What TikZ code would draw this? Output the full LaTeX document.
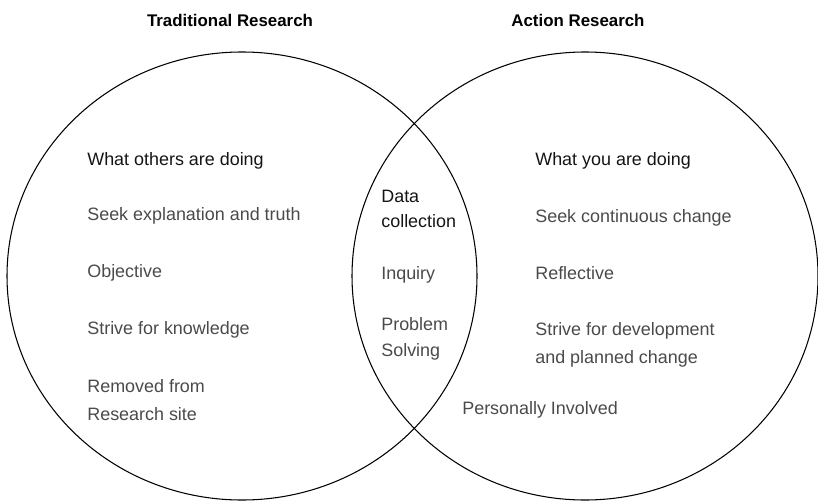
\documentclass[tikz,border=0pt]{standalone}
\usepackage{fontspec}
\setmainfont{Liberation Sans}
\definecolor{bodygray}{HTML}{4A4A4A}
\begin{document}
\begin{tikzpicture}[x=0.2mm,y=-0.2mm,
  title/.style={anchor=base,inner sep=0pt,font=\bfseries\fontsize{9.6}{12}\selectfont},
  lead/.style={anchor=base west,inner sep=0pt,align=left,text=black!92,font=\fontsize{10.2}{15.9}\selectfont},
  item/.style={lead,text=bodygray},
  twolines/.style={anchor=west},
  tight/.style={font=\fontsize{10.2}{14.5}\selectfont}]
\useasboundingbox (0,0) rectangle (818,500);
\draw [line width=0.6pt] (242,276) ellipse [x radius=47mm, y radius=44.8mm];
\draw [line width=0.6pt] (585,276) ellipse [x radius=46.6mm, y radius=44.8mm];
\node[title] (trad) at (230,26) {Traditional Research};
\node[title] (action) at (578,26) {Action Research};
\node[lead] (others) at (87,165) {What others are doing};
\node[item] (truth) at (87,220) {Seek explanation and truth};
\node[item] (objective) at (87,277) {Objective};
\node[item] (knowledge) at (87,334) {Strive for knowledge};
\node[item,twolines] (removed) at (87,400) {Removed from\\Research site};
\node[lead,tight,twolines] (data) at (381,209) {Data\\collection};
\node[item] (inquiry) at (381,279) {Inquiry};
\node[item,tight,twolines] (problem) at (381,339) {Problem\\Solving};
\node[lead] (you) at (535,165) {What you are doing};
\node[item] (change) at (535,222) {Seek continuous change};
\node[item] (reflective) at (535,279) {Reflective};
\node[item,twolines] (development) at (535,345) {Strive for development\\and planned change};
\node[item] (involved) at (462,414) {Personally Involved};
\end{tikzpicture}
\end{document}
